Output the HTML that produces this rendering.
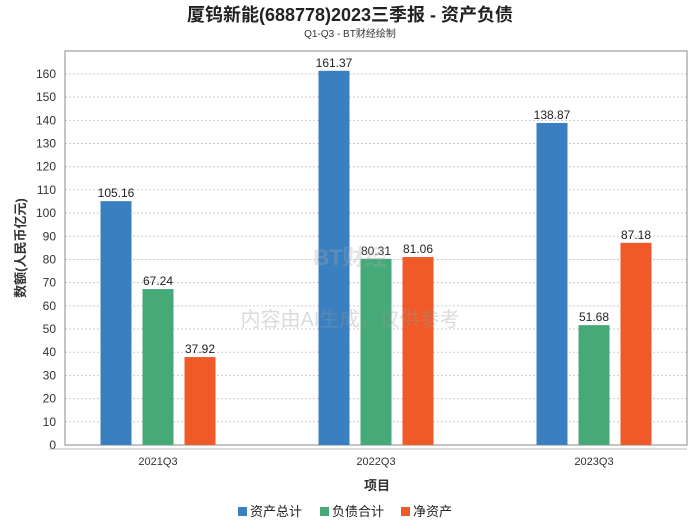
<!DOCTYPE html>
<html><head><meta charset="utf-8"><style>
body{margin:0;background:#fff;}
svg text{font-family:"Liberation Sans","Noto Sans CJK SC",sans-serif;}
</style></head><body>
<svg id="c" width="700" height="524" xmlns="http://www.w3.org/2000/svg">
<text x="350" y="21" text-anchor="middle" font-size="18" font-weight="bold" fill="#222">厦钨新能(688778)2023三季报 - 资产负债</text>
<text x="350" y="37" text-anchor="middle" font-size="10" fill="#333">Q1-Q3 - BT财经绘制</text>
<g id="grid"></g>
<rect x="65" y="51" width="622" height="394" fill="none" stroke="#888" stroke-width="1"/>
<line x1="49" y1="449" x2="687" y2="449" stroke="#bbb"/>
<g id="bars"></g>
<text x="350" y="326" text-anchor="middle" font-size="20" fill="#999" opacity="0.35">内容由AI生成，仅供参考</text>
<text x="350" y="265" text-anchor="middle" font-size="22" fill="#aaa" opacity="0.3" font-weight="bold">BT财经</text>
<text x="377" y="490" text-anchor="middle" font-size="13" font-weight="bold" fill="#333">项目</text>
<text transform="translate(25,248) rotate(-90)" text-anchor="middle" font-size="13" font-weight="bold" fill="#333">数额(人民币亿元)</text>
<g id="legend"></g>
</svg>
<script>
const categories=["2021Q3","2022Q3","2023Q3"];
const seriesNames=["资产总计","负债合计","净资产"];
const assets=[105.16,161.37,138.87];
const liabilities=[67.24,80.31,51.68];
const equity=[37.92,81.06,87.18];
const yTicks=[0,10,20,30,40,50,60,70,80,90,100,110,120,130,140,150,160];
const colors=["#3a80c0","#45a978","#f05a28"];
const NS="http://www.w3.org/2000/svg";
function y(v){return 445-v*2.319;}
function xc(i){return 158+i*218;}
function mk(t,a,p){const e=document.createElementNS(NS,t);for(const k in a)e.setAttribute(k,a[k]);p.appendChild(e);return e;}
const grid=document.getElementById('grid');
yTicks.forEach(t=>{
  if(t>0){const l=mk('line',{x1:65,x2:687,y1:y(t),y2:y(t),stroke:'#ccc','stroke-dasharray':'2,2'},grid);
  
  }
  const tx=mk('text',{x:56,y:y(t)+4,'text-anchor':'end','font-size':12,fill:'#333'},grid);tx.textContent=t;
  
  
});
const bars=document.getElementById('bars');
const series=[assets,liabilities,equity];
categories.forEach((c,i)=>{
  const tl=mk('text',{x:xc(i),y:465,'text-anchor':'middle','font-size':11,fill:'#333'},bars);tl.textContent=c;
  
  
  series.forEach((s,j)=>{
    const cx=xc(i)+(j-1)*42;
    const r=mk('rect',{x:cx-15.5,y:y(s[i]),width:31,height:445-y(s[i]),fill:colors[j]},bars);
    
    
    const v=mk('text',{x:cx,y:y(s[i])-4,'text-anchor':'middle','font-size':12,fill:'#222'},bars);v.textContent=s[i].toFixed(2);
    
    
  });
});
const lg=document.getElementById('legend');
const lx=[238,320,401];
seriesNames.forEach((n,j)=>{
  const g=mk('g',{},lg);
  
  
  mk('rect',{x:lx[j],y:507,width:9,height:9,fill:colors[j]},g);
  const t=mk('text',{x:lx[j]+12,y:516,'font-size':13,fill:'#222'},g);t.textContent=n;
});
</script>
</body></html>
